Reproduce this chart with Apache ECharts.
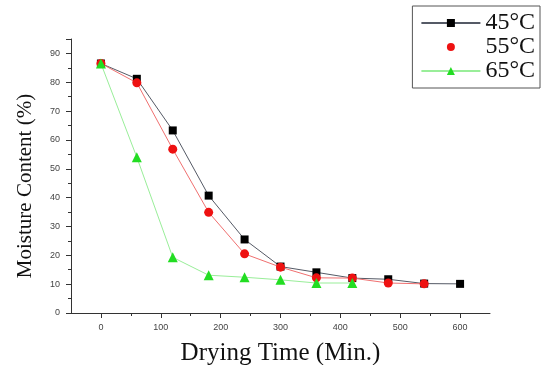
<!DOCTYPE html>
<html><head><meta charset="utf-8">
<script src="https://cdn.jsdelivr.net/npm/echarts@6/dist/echarts.min.js"></script>
<style>html,body{margin:0;padding:0;background:#fff}#c{width:543px;height:365px}</style>
</head><body><div id="c"></div>
<script>
const seriesNames = ['45°C', '55°C', '65°C'];
const times45 = [0, 60, 120, 180, 240, 300, 360, 420, 480, 540, 600];
const mc45 = [86.5, 81.2, 63.3, 40.7, 25.5, 16.1, 14.1, 12.1, 11.7, 10.2, 10.1];
const times55 = [0, 60, 120, 180, 240, 300, 360, 420, 480, 540];
const mc55 = [86.5, 79.8, 56.8, 34.9, 20.5, 15.9, 12.2, 12.1, 10.4, 10.1];
const times65 = [0, 60, 120, 180, 240, 300, 360, 420];
const mc65 = [86.5, 54.0, 19.3, 13.1, 12.4, 11.5, 10.4, 10.4];
const xMajorTicks = [0, 100, 200, 300, 400, 500, 600];
const xMinorTicks = [50, 150, 250, 350, 450, 550];

const pairs = (xs, ys) => xs.map((x, i) => [x, ys[i]]);
const chart = echarts.init(document.getElementById('c'));
const serif = 'Liberation Serif, Times New Roman, serif';
const sans = 'Liberation Sans, Arial, sans-serif';
chart.setOption({
  animation: false,
  backgroundColor: '#fff',
  grid: {left: 71, right: 53, top: 39, bottom: 52, containLabel: false, outerBoundsMode: 'none'},
  legend: {
    show: true,
    right: 3, top: 6,
    orient: 'vertical',
    itemWidth: 59, itemHeight: 10, itemGap: 0,
    padding: [5, 5, 5, 8],
    borderColor: '#555', borderWidth: 1,
    textStyle: {fontFamily: serif, fontSize: 24, color: '#111'},
    data: [
      {name: seriesNames[0]},
      {name: seriesNames[1], lineStyle: {opacity: 0}},
      {name: seriesNames[2]}
    ]
  },
  xAxis: [{
    type: 'value', min: -50, max: 650, interval: 50,
    name: 'Drying Time (Min.)', nameLocation: 'middle', nameGap: 28,
    nameTextStyle: {fontFamily: serif, fontSize: 25, color: '#111'},
    axisLine: {show: true, onZero: false, lineStyle: {color: '#333', width: 1}},
    axisTick: {show: true, length: 5, customValues: xMajorTicks, lineStyle: {color: '#333'}},
    splitLine: {show: false},
    axisLabel: {fontFamily: sans, fontSize: 9, color: '#444', margin: 10, customValues: xMajorTicks}
  }, {
    type: 'value', min: -50, max: 650, interval: 50, position: 'bottom',
    axisLine: {show: false, onZero: false},
    axisTick: {show: true, length: 3, customValues: xMinorTicks, lineStyle: {color: '#333'}},
    axisLabel: {show: false},
    splitLine: {show: false}
  }],
  yAxis: {
    type: 'value', min: 0, max: 95, interval: 10,
    name: 'Moisture Content (%)', nameLocation: 'middle', nameGap: 35, nameRotate: 90,
    nameTextStyle: {fontFamily: serif, fontSize: 21, color: '#111', padding: [0, 20, 0, 0]},
    axisLine: {show: true, onZero: false, lineStyle: {color: '#333', width: 1}},
    axisTick: {show: true, length: 5, lineStyle: {color: '#333'}},
    minorTick: {show: true, splitNumber: 2, length: 3, lineStyle: {color: '#333'}},
    splitLine: {show: false},
    axisLabel: {fontFamily: sans, fontSize: 9, color: '#444', margin: 11, showMaxLabel: false}
  },
  series: [
    {name: seriesNames[0], type: 'line', data: pairs(times45, mc45), symbol: 'rect', symbolSize: 8,
      itemStyle: {color: '#000'}, lineStyle: {color: '#555a66', width: 1}, z: 3},
    {name: seriesNames[1], type: 'line', data: pairs(times55, mc55), symbol: 'circle', symbolSize: 9,
      itemStyle: {color: '#ee1111'}, lineStyle: {color: '#f07070', width: 1}, z: 4},
    {name: seriesNames[2], type: 'line', data: pairs(times65, mc65), symbol: 'triangle', symbolSize: 10,
      itemStyle: {color: '#22dd22'}, lineStyle: {color: '#99ee99', width: 1}, z: 5}
  ]
});
</script></body></html>
